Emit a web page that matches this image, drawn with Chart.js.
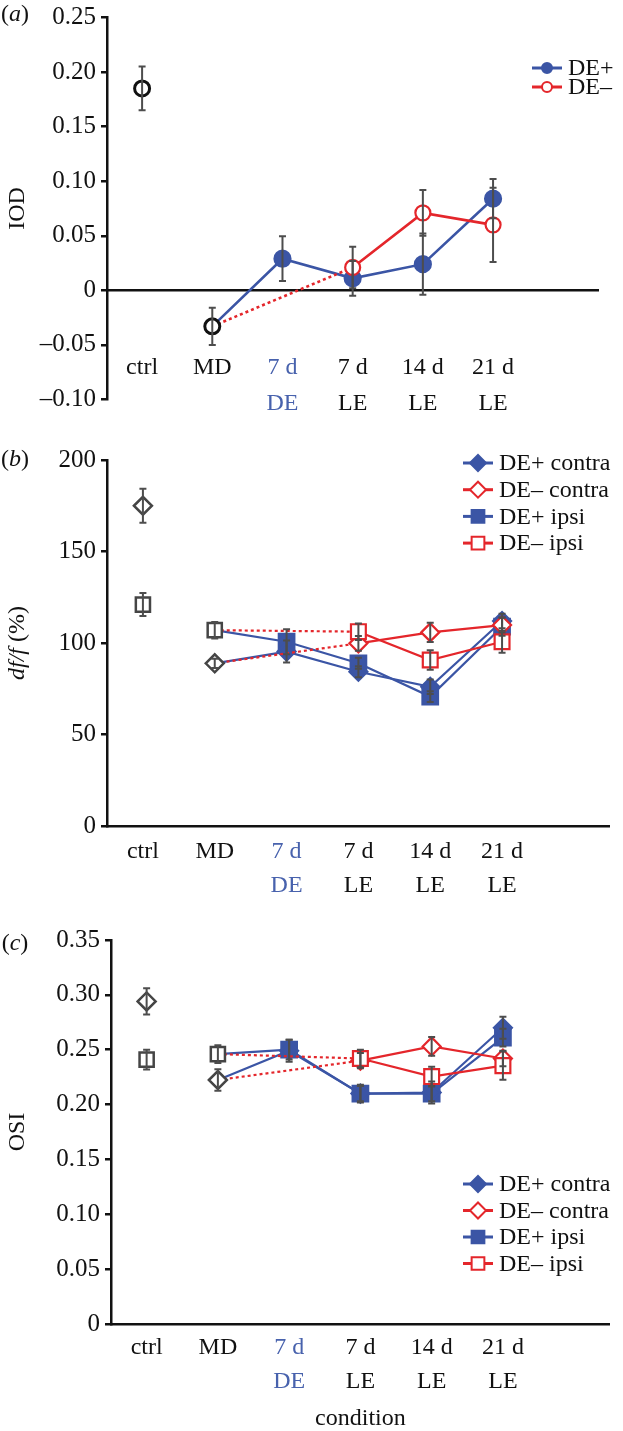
<!DOCTYPE html>
<html>
<head>
<meta charset="utf-8">
<script src="https://cdn.jsdelivr.net/npm/chart.js@4.4.1/dist/chart.umd.min.js"></script>
<style>
  html, body { margin: 0; padding: 0; background: #fff; }
  body { width: 623px; height: 1431px; position: relative; overflow: hidden; }
  canvas { position: absolute; left: 0; }
  #chartA { top: 0; }
  #chartB { top: 430px; }
  #chartC { top: 910px; }
</style>
</head>
<body>
<canvas id="chartA" width="623" height="425"></canvas>
<canvas id="chartB" width="623" height="470"></canvas>
<canvas id="chartC" width="623" height="521"></canvas>
<script>
// ---- data ----
const CATEGORIES = ['ctrl', 'MD', ['7 d', 'DE'], ['7 d', 'LE'], ['14 d', 'LE'], ['21 d', 'LE'], ''];

// (a) IOD
const IOD_TICKS = [-0.10, -0.05, 0, 0.05, 0.10, 0.15, 0.20, 0.25];
const IOD_CTRL = [0.185, -0.033, null, null, null, null, null];
const IOD_CTRL_ERR = [0.020, 0.017, null, null, null, null, null];
const IOD_DE_PLUS = [null, -0.033, 0.029, 0.011, 0.024, 0.084, null];
const IOD_DE_PLUS_ERR = [null, null, 0.0205, 0.016, 0.028, 0.018, null];
const IOD_DE_MINUS = [null, -0.033, null, 0.021, 0.071, 0.060, null];
const IOD_DE_MINUS_ERR = [null, null, null, 0.019, 0.021, 0.034, null];

// (b) df/f (%)
const DFF_TICKS = [0, 50, 100, 150, 200];
const DFF_CTRL_CONTRA = [175, 88.9, null, null, null, null, null];
const DFF_CTRL_CONTRA_ERR = [9.3, 2.5, null, null, null, null, null];
const DFF_CTRL_IPSI = [121, 107, null, null, null, null, null];
const DFF_CTRL_IPSI_ERR = [6.3, 4.5, null, null, null, null, null];
const DFF_PLUS_CONTRA = [null, 88.9, 95.3, 84.3, 76.1, 112, null];
const DFF_PLUS_CONTRA_ERR = [null, null, 6, 3, 4, 4, null];
const DFF_MINUS_CONTRA = [null, 88.9, null, 99.8, 105.8, 109.8, null];
const DFF_MINUS_CONTRA_ERR = [null, null, null, 4, 5.3, 4, null];
const DFF_PLUS_IPSI = [null, 107, 100.7, 88.9, 70.7, 108.9, null];
const DFF_PLUS_IPSI_ERR = [null, null, 6.8, 3, 3, 5, null];
const DFF_MINUS_IPSI = [null, 107, null, 106.2, 90.7, 100.7, null];
const DFF_MINUS_IPSI_ERR = [null, null, null, 4.5, 5.3, 6, null];

// (c) OSI
const OSI_TICKS = [0, 0.05, 0.10, 0.15, 0.20, 0.25, 0.30, 0.35];
const OSI_CTRL_CONTRA = [0.294, 0.2224, null, null, null, null, null];
const OSI_CTRL_CONTRA_ERR = [0.012, 0.0097, null, null, null, null, null];
const OSI_CTRL_IPSI = [0.241, 0.246, null, null, null, null, null];
const OSI_CTRL_IPSI_ERR = [0.009, 0.008, null, null, null, null, null];
const OSI_PLUS_CONTRA = [null, 0.2224, 0.249, 0.210, 0.211, 0.270, null];
const OSI_PLUS_CONTRA_ERR = [null, null, 0.010, 0.008, 0.010, 0.010, null];
const OSI_MINUS_CONTRA = [null, 0.2224, null, 0.240, 0.253, 0.242, null];
const OSI_MINUS_CONTRA_ERR = [null, null, null, 0.007, 0.0085, 0.007, null];
const OSI_PLUS_IPSI = [null, 0.246, 0.250, 0.210, 0.210, 0.261, null];
const OSI_PLUS_IPSI_ERR = [null, null, 0.009, 0.007, 0.007, 0.008, null];
const OSI_MINUS_IPSI = [null, 0.246, null, 0.242, 0.2255, 0.2355, null];
const OSI_MINUS_IPSI_ERR = [null, null, null, 0.008, 0.009, 0.0128, null];

// ---- styling ----
const BLUE = '#3b55a5', RED = '#e4262b', GREY = '#454545', ERR = '#4d4d4d', INK = '#111';
const LABEL_BLUE = '#4862ad';
const FONT = "'Liberation Serif', 'Times New Roman', serif";

const fmtTick = v => {
  if (Math.abs(v) < 1e-9) return '0';
  const s = Math.abs(v) >= 1 ? String(Math.round(Math.abs(v))) : Math.abs(v).toFixed(2);
  return (v < 0 ? '\u2013' : '') + s;
};

// hide the point where a coloured line starts from the shared MD marker
const hideMD = r => ctx => ctx.dataIndex === 1 ? 0 : r;
// the MD -> 7 d LE span (skipping the empty 7 d DE slot) is dotted
const dottedFromMD = { borderDash: ctx => ctx.p1DataIndex === 3 ? [3, 3] : undefined };

function ctrlSet(label, data, errors, style, r) {
  return {
    label, data, errors, hideInLegend: true, showLine: false, order: 0,
    pointStyle: style, pointRadius: r, borderColor: GREY, pointBorderColor: GREY,
    pointBackgroundColor: '#fff', pointBorderWidth: 2.5
  };
}

function lineSet(label, data, errors, color, style, r, open, order, legendR, lw) {
  return {
    label, data, errors, order, legendR,
    borderColor: color, backgroundColor: color, borderWidth: lw || 2.2,
    pointStyle: style, pointRadius: hideMD(r), pointBorderColor: color,
    pointBackgroundColor: open ? '#fff' : color, pointBorderWidth: 2.2,
    spanGaps: true, tension: 0,
    segment: open ? dottedFromMD : undefined
  };
}

// ---- plugins ----
const errorBars = {
  id: 'errorBars',
  afterDatasetsDraw(chart) {
    const { ctx } = chart;
    const ys = chart.scales.y;
    ctx.save();
    ctx.strokeStyle = ERR;
    ctx.lineWidth = 2;
    chart.data.datasets.forEach((ds, i) => {
      if (!ds.errors) return;
      chart.getDatasetMeta(i).data.forEach((pt, j) => {
        const v = ds.data[j], e = ds.errors[j];
        if (v == null || e == null) return;
        const top = ys.getPixelForValue(v + e), bot = ys.getPixelForValue(v - e);
        ctx.beginPath();
        ctx.moveTo(pt.x, top); ctx.lineTo(pt.x, bot);
        ctx.moveTo(pt.x - 3.5, top); ctx.lineTo(pt.x + 3.5, top);
        ctx.moveTo(pt.x - 3.5, bot); ctx.lineTo(pt.x + 3.5, bot);
        ctx.stroke();
      });
    });
    ctx.restore();
  }
};

function drawMarker(ctx, style, x, y, r, stroke, fill, lw) {
  ctx.beginPath();
  if (style === 'circle') {
    ctx.arc(x, y, r, 0, Math.PI * 2);
  } else if (style === 'rect') {
    const h = r * Math.SQRT1_2;
    ctx.rect(x - h, y - h, 2 * h, 2 * h);
  } else {
    ctx.moveTo(x - r, y); ctx.lineTo(x, y - r); ctx.lineTo(x + r, y); ctx.lineTo(x, y + r);
    ctx.closePath();
  }
  ctx.fillStyle = fill; ctx.fill();
  ctx.lineWidth = lw; ctx.strokeStyle = stroke; ctx.stroke();
}

// draws a run of [text, italic] pieces centred on (x, y)
function drawPieces(ctx, pieces, x, y, rotate) {
  ctx.save();
  ctx.translate(x, y);
  if (rotate) ctx.rotate(-Math.PI / 2);
  ctx.textBaseline = 'middle';
  ctx.textAlign = 'left';
  ctx.fillStyle = INK;
  const fontOf = it => (it ? 'italic ' : '') + '24px ' + FONT;
  let w = 0;
  pieces.forEach(([t, it]) => { ctx.font = fontOf(it); w += ctx.measureText(t).width; });
  let cx = -w / 2;
  pieces.forEach(([t, it]) => {
    ctx.font = fontOf(it);
    ctx.fillText(t, cx, 0);
    cx += ctx.measureText(t).width;
  });
  ctx.restore();
}

const figText = {
  id: 'figText',
  afterDraw(chart, args, opts) {
    const { ctx } = chart;
    drawPieces(ctx, [['(', false], [opts.letter, true], [')', false]], 15, opts.letterY, false);
    if (opts.yTitle) {
      const a = chart.chartArea;
      drawPieces(ctx, opts.yTitle, 18, (a.top + a.bottom) / 2, true);
    }
    const lg = opts.legend;
    if (!lg) return;
    let row = 0;
    chart.data.datasets.forEach(ds => {
      if (ds.hideInLegend) return;
      const y = lg.y + row * lg.dy;
      ctx.save();
      ctx.strokeStyle = ds.borderColor;
      ctx.lineWidth = 3;
      ctx.beginPath();
      ctx.moveTo(lg.x, y); ctx.lineTo(lg.x + lg.len, y);
      ctx.stroke();
      drawMarker(ctx, ds.pointStyle, lg.x + lg.len / 2, y, ds.legendR,
        ds.borderColor, ds.pointBackgroundColor, 2);
      ctx.font = '24px ' + FONT;
      ctx.fillStyle = INK;
      ctx.textBaseline = 'middle';
      ctx.fillText(ds.label, lg.x + lg.len + 6, y + 1);
      ctx.restore();
      row++;
    });
  }
};

// ---- shared axis builders ----
function yAxis(ticks, width, title) {
  return {
    min: ticks[0], max: ticks[ticks.length - 1],
    afterBuildTicks: s => { s.ticks = ticks.map(v => ({ value: v })); },
    afterFit: s => { s.width = width; },
    grid: { drawOnChartArea: false, drawTicks: true, tickLength: 6, lineWidth: 2.5, color: INK },
    border: { display: true, width: 2.5, color: INK },
    ticks: { padding: 5, color: INK, font: { family: FONT, size: 25, lineHeight: 1 }, callback: fmtTick },
    title: title
      ? { display: true, text: title, color: INK, padding: { top: 6, bottom: 0 },
          font: { family: FONT, size: 24, lineHeight: 1 } }
      : { display: false }
  };
}

function xAxis(extra) {
  return Object.assign({
    type: 'category', offset: true,
    grid: { display: false, drawTicks: false },
    border: { display: true, width: 2.5, color: INK },
    ticks: {
      autoSkip: false, maxRotation: 0, color: c => c.index === 2 ? LABEL_BLUE : INK,
      font: { family: FONT, size: 24, lineHeight: 1.42 }
    }
  }, extra);
}

const base = {
  responsive: false, animation: false, events: [],
  plugins: { legend: { display: false }, tooltip: { enabled: false } }
};

// ---- (a) IOD ----
new Chart(document.getElementById('chartA'), {
  type: 'line',
  data: {
    labels: CATEGORIES,
    datasets: [
      lineSet('DE+', IOD_DE_PLUS, IOD_DE_PLUS_ERR, BLUE, 'circle', 8, false, 2, 5, 2.6),
      lineSet('DE\u2013', IOD_DE_MINUS, IOD_DE_MINUS_ERR, RED, 'circle', 7.5, true, 1, 5, 2.6),
      Object.assign(ctrlSet('ctrl', IOD_CTRL, IOD_CTRL_ERR, 'circle', 7.5),
        { borderColor: '#111', pointBorderColor: '#111', pointBorderWidth: 3 })
    ]
  },
  options: Object.assign({}, base, {
    layout: { padding: { left: 0, right: 3, top: 15, bottom: 25.5 } },
    scales: {
      x: (() => {
        const ax = xAxis({ position: { y: 0 } });
        ax.ticks.padding = 59;
        ax.ticks.font.lineHeight = 1.5;
        return ax;
      })(),
      y: yAxis(IOD_TICKS, 107, 'IOD')
    },
    plugins: Object.assign({}, base.plugins, {
      figText: { letter: 'a', letterY: 15, legend: { x: 532, y: 68, dy: 19, len: 30 } }
    })
  }),
  plugins: [errorBars, figText]
});

// ---- (b) df/f ----
function fourSets(pc, pcE, mc, mcE, pi, piE, mi, miE) {
  return [
    lineSet('DE+ contra', pc, pcE, BLUE, 'rectRot', 9, false, 3, 8),
    lineSet('DE\u2013 contra', mc, mcE, RED, 'rectRot', 9, true, 2, 8),
    lineSet('DE+ ipsi', pi, piE, BLUE, 'rect', 11, false, 4, 9),
    lineSet('DE\u2013 ipsi', mi, miE, RED, 'rect', 10.5, true, 1, 9)
  ];
}

new Chart(document.getElementById('chartB'), {
  type: 'line',
  data: {
    labels: CATEGORIES,
    datasets: [
      ctrlSet('ctrl contra', DFF_CTRL_CONTRA, DFF_CTRL_CONTRA_ERR, 'rectRot', 9),
      ctrlSet('ctrl ipsi', DFF_CTRL_IPSI, DFF_CTRL_IPSI_ERR, 'rect', 10)
    ].concat(fourSets(DFF_PLUS_CONTRA, DFF_PLUS_CONTRA_ERR, DFF_MINUS_CONTRA, DFF_MINUS_CONTRA_ERR,
      DFF_PLUS_IPSI, DFF_PLUS_IPSI_ERR, DFF_MINUS_IPSI, DFF_MINUS_IPSI_ERR))
  },
  options: Object.assign({}, base, {
    layout: { padding: { left: 0, right: 3, top: 30, bottom: 0 } },
    scales: {
      x: (() => {
        const ax = xAxis({ position: 'bottom', afterFit: s => { s.height = 74; } });
        ax.ticks.padding = 8.6;
        return ax;
      })(),
      y: yAxis(DFF_TICKS, 107, null)
    },
    plugins: Object.assign({}, base.plugins, {
      figText: {
        letter: 'b', letterY: 30,
        yTitle: [['df/f', true], [' (%)', false]],
        legend: { x: 463, y: 33, dy: 26.7, len: 30 }
      }
    })
  }),
  plugins: [errorBars, figText]
});

// ---- (c) OSI ----
new Chart(document.getElementById('chartC'), {
  type: 'line',
  data: {
    labels: CATEGORIES,
    datasets: [
      ctrlSet('ctrl contra', OSI_CTRL_CONTRA, OSI_CTRL_CONTRA_ERR, 'rectRot', 9),
      ctrlSet('ctrl ipsi', OSI_CTRL_IPSI, OSI_CTRL_IPSI_ERR, 'rect', 10)
    ].concat(fourSets(OSI_PLUS_CONTRA, OSI_PLUS_CONTRA_ERR, OSI_MINUS_CONTRA, OSI_MINUS_CONTRA_ERR,
      OSI_PLUS_IPSI, OSI_PLUS_IPSI_ERR, OSI_MINUS_IPSI, OSI_MINUS_IPSI_ERR))
  },
  options: Object.assign({}, base, {
    layout: { padding: { left: 0, right: 3, top: 30, bottom: 0 } },
    scales: {
      x: (() => {
        const ax = xAxis({
          position: 'bottom', afterFit: s => { s.height = 107; },
          title: { display: true, text: 'condition', color: INK, padding: { top: 0, bottom: 0 },
                   font: { family: FONT, size: 24, lineHeight: 1 } }
        });
        ax.ticks.padding = 7;
        return ax;
      })(),
      y: yAxis(OSI_TICKS, 111, 'OSI')
    },
    plugins: Object.assign({}, base.plugins, {
      figText: { letter: 'c', letterY: 34, legend: { x: 463, y: 274, dy: 26.5, len: 30 } }
    })
  }),
  plugins: [errorBars, figText]
});
</script>
</body>
</html>
